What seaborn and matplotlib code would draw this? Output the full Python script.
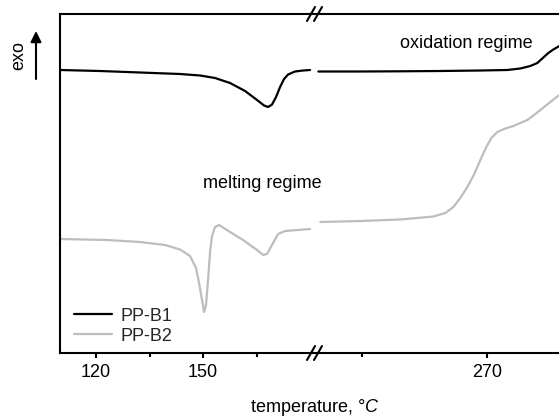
import numpy as np
import pandas as pd
import matplotlib
matplotlib.use("Agg")
import matplotlib.pyplot as plt
from matplotlib.lines import Line2D
import seaborn as sns

# ---------------- data (temperature in degC, heat flow in a.u.) ----------------
series_names = ["PP-B1", "PP-B2"]

t_b1_low = [109.91, 121.12, 132.34, 143.55, 149.16, 153.36, 157.57, 161.78, 165.14,
            167.10, 168.22, 169.34, 170.46, 171.59, 172.71, 173.83, 175.79, 178.03, 180.0]
y_b1_low = [2.83, 2.82, 2.805, 2.79, 2.775, 2.75, 2.70, 2.62, 2.53,
            2.475, 2.46, 2.485, 2.56, 2.66, 2.74, 2.785, 2.815, 2.825, 2.83]

t_b1_high = [249.72, 254.76, 259.56, 264.36, 269.16, 272.40, 273.96, 275.16, 276.0,
             276.72, 277.32, 277.92, 278.64]
y_b1_high = [2.815, 2.815, 2.817, 2.82, 2.825, 2.83, 2.845, 2.87, 2.90,
             2.955, 3.00, 3.035, 3.07]

t_b2_low = [109.91, 123.08, 132.34, 139.34, 143.55, 146.35, 148.03, 148.88, 149.72,
            150.28, 150.84, 151.40, 151.96, 152.52, 153.36, 154.48, 157.57, 161.21,
            165.14, 166.82, 167.94, 169.62, 171.02, 172.99, 180.0]
y_b2_low = [1.14, 1.13, 1.11, 1.08, 1.035, 0.97, 0.85, 0.70, 0.53,
            0.41, 0.48, 0.73, 1.01, 1.17, 1.26, 1.28, 1.21, 1.13,
            1.03, 0.98, 0.99, 1.10, 1.19, 1.22, 1.24]

t_b2_high = [249.96, 254.76, 259.56, 263.52, 264.96, 265.92, 266.76, 267.6, 268.44,
             269.16, 269.88, 270.48, 271.2, 272.16, 273.12, 274.8, 275.76, 276.36,
             277.56, 278.64]
y_b2_high = [1.31, 1.32, 1.335, 1.365, 1.40, 1.46, 1.55, 1.66, 1.79,
             1.93, 2.06, 2.15, 2.21, 2.245, 2.27, 2.33, 2.39, 2.43,
             2.51, 2.58]

low_major_ticks = [120, 150]
low_minor_ticks = [135, 165]
high_major_ticks = [270]
high_minor_ticks = [255]

# ---------------- style ----------------
sns.set_theme(style="white")
plt.rcParams["font.family"] = ["Liberation Sans", "DejaVu Sans"]
plt.rcParams["mathtext.fontset"] = "custom"
plt.rcParams["mathtext.rm"] = "Liberation Sans"
plt.rcParams["mathtext.it"] = "Liberation Sans:italic"

palette = {"PP-B1": "black", "PP-B2": "#bdbdbd"}
FS = 13

W, H = 559, 418
fig = plt.figure(figsize=(W / 100, H / 100), dpi=100)


def rect(x0, x1, y0, y1):
    return [x0 / W, 1 - y1 / H, (x1 - x0) / W, (y1 - y0) / H]


axL = fig.add_axes(rect(60, 314, 14, 353))
axR = fig.add_axes(rect(314, 559, 14, 353))

df_low = pd.DataFrame({
    "T": t_b1_low + t_b2_low,
    "y": y_b1_low + y_b2_low,
    "sample": ["PP-B1"] * len(t_b1_low) + ["PP-B2"] * len(t_b2_low),
})
df_high = pd.DataFrame({
    "T": t_b1_high + t_b2_high,
    "y": y_b1_high + y_b2_high,
    "sample": ["PP-B1"] * len(t_b1_high) + ["PP-B2"] * len(t_b2_high),
})

sns.lineplot(data=df_low, x="T", y="y", hue="sample", hue_order=series_names,
             palette=palette, estimator=None, lw=1.6, ax=axL)
sns.lineplot(data=df_high, x="T", y="y", hue="sample", hue_order=series_names,
             palette=palette, estimator=None, lw=1.6, ax=axR, legend=False)

axL.set_xlim(109.9, 181.1)
axR.set_xlim(249.2, 278.6)
for ax in (axL, axR):
    ax.set_ylim(0, 3.39)
    ax.set_yticks([])
    ax.set_xlabel("")
    ax.set_ylabel("")
    for s in ax.spines.values():
        s.set_color("black")
        s.set_linewidth(1.5)
    ax.tick_params(axis="x", which="major", bottom=True, direction="out",
                   length=3.6, width=1.5, color="black", labelsize=FS, pad=4,
                   labelcolor="black")
    ax.tick_params(axis="x", which="minor", bottom=True, direction="out",
                   length=2.6, width=1.5, color="black")
axL.spines["right"].set_visible(False)
axR.spines["left"].set_visible(False)
axR.spines["right"].set_visible(False)

axL.set_xticks(low_major_ticks)
axL.set_xticks(low_minor_ticks, minor=True)
axR.set_xticks(high_major_ticks)
axR.set_xticks(high_minor_ticks, minor=True)

# legend
axL.legend(loc="lower left", bbox_to_anchor=(0.055, 0.025), frameon=False,
           fontsize=FS, handlelength=2.1, handletextpad=0.5, labelspacing=0.15,
           borderpad=0, borderaxespad=0)

# axis break marks
for yb in (14, 353):
    for xc in (311, 318):
        fig.add_artist(Line2D([(xc - 4) / W, (xc + 4) / W],
                              [1 - (yb + 7) / H, 1 - (yb - 7) / H],
                              transform=fig.transFigure, color="black", lw=1.5))

# texts
fig.text(315 / W, 1 - 407 / H, r"temperature, °$\mathit{C}$", ha="center", va="center",
         fontsize=FS, color="black")
fig.text(19 / W, 1 - 56 / H, "exo", rotation=90, ha="center", va="center",
         fontsize=FS, color="black")
fig.text(400 / W, 1 - 43 / H, "oxidation regime", ha="left", va="center",
         fontsize=FS, color="black")
fig.text(203 / W, 1 - 183 / H, "melting regime", ha="left", va="center",
         fontsize=FS, color="black")

axL.annotate("", xy=(36, H - 31), xytext=(36, H - 79), xycoords="figure pixels",
             textcoords="figure pixels", annotation_clip=False,
             arrowprops=dict(arrowstyle="-|>", lw=1.5, color="black",
                             mutation_scale=16, shrinkA=0, shrinkB=0))

fig.savefig("out.png", dpi=100)
